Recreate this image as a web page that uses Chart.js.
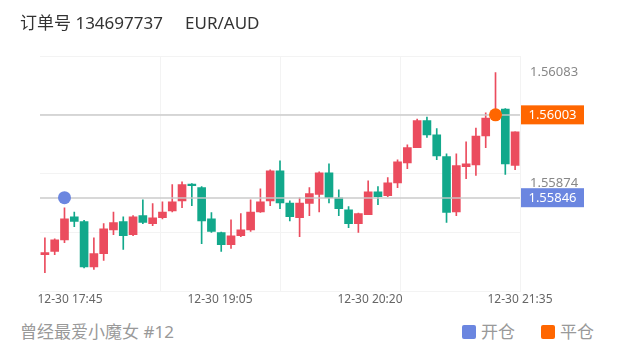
<!DOCTYPE html>
<html>
<head>
<meta charset="utf-8">
<script src="https://cdn.jsdelivr.net/npm/chart.js@4.4.1/dist/chart.umd.min.js"></script>
<style>
    body { margin: 0; background: #fff; font-family: "Noto Sans", "Noto Sans CJK SC", sans-serif; }
    #wrap { position: relative; width: 620px; height: 352px; overflow: hidden; }
    #title { position: absolute; left: 20px; top: 9px; font-size: 17px; color: #333; white-space: pre; }
    #footer { position: absolute; left: 20px; top: 318px; font-size: 17px; color: #999; }
    #legend { position: absolute; left: 462px; top: 318px; font-size: 17px; color: #999; }
    #legend span.box { display: inline-block; width: 14px; height: 14px; border-radius: 2px; vertical-align: -1px; margin-right: 5px; }
    #legend span.item { margin-right: 26px; }
    canvas { position: absolute; left: 0; top: 0; }
</style>
</head>
<body>
<div id="wrap">
    <canvas id="kline-chart" width="620" height="310"></canvas>
    <div id="title">订单号 134697737     EUR/AUD</div>
    <div id="footer">曾经最爱小魔女 #12</div>
    <div id="legend"><span class="item"><span class="box" style="background:#6b86e0"></span>开仓</span><span><span class="box" style="background:#ff6600"></span>平仓</span></div>
</div>
<script>
// K线数据 (5分钟)
const categories = [
    '17:30', '17:35', '17:40', '17:45', '17:50', '17:55', '18:00', '18:05', '18:10', '18:15',
    '18:20', '18:25', '18:30', '18:35', '18:40', '18:45', '18:50', '18:55', '19:00', '19:05',
    '19:10', '19:15', '19:20', '19:25', '19:30', '19:35', '19:40', '19:45', '19:50', '19:55',
    '20:00', '20:05', '20:10', '20:15', '20:20', '20:25', '20:30', '20:35', '20:40', '20:45',
    '20:50', '20:55', '21:00', '21:05', '21:10', '21:15', '21:20', '21:25', '21:30'
];
const opens = [
    1.55738, 1.55744, 1.55766, 1.55810, 1.55801, 1.55715, 1.55740, 1.55785, 1.55801, 1.55776,
    1.55812, 1.55797, 1.55808, 1.55821, 1.55840, 1.55872, 1.55865, 1.55806, 1.55780, 1.55757,
    1.55774, 1.55785, 1.55819, 1.55840, 1.55897, 1.55836, 1.55808, 1.55835, 1.55852, 1.55893,
    1.55846, 1.55823, 1.55797, 1.55814, 1.55857, 1.55850, 1.55874, 1.55912, 1.55941, 1.55992,
    1.55965, 1.55924, 1.55819, 1.55905, 1.55908, 1.55963, 1.55997, 1.56014, 1.55907
];
const highs = [
    1.55770, 1.55768, 1.55827, 1.55819, 1.55803, 1.55770, 1.55797, 1.55819, 1.55810, 1.55812,
    1.55842, 1.55835, 1.55838, 1.55871, 1.55876, 1.55873, 1.55867, 1.55818, 1.55781, 1.55804,
    1.55816, 1.55842, 1.55863, 1.55899, 1.55916, 1.55840, 1.55846, 1.55865, 1.55895, 1.55910,
    1.55861, 1.55829, 1.55817, 1.55878, 1.55867, 1.55884, 1.55918, 1.55946, 1.55995, 1.55999,
    1.55977, 1.55929, 1.55929, 1.55952, 1.55978, 1.56007, 1.56083, 1.56015, 1.55971
];
const lows = [
    1.55704, 1.55738, 1.55761, 1.55791, 1.55713, 1.55710, 1.55727, 1.55776, 1.55748, 1.55774,
    1.55797, 1.55793, 1.55806, 1.55819, 1.55827, 1.55831, 1.55759, 1.55780, 1.55744, 1.55750,
    1.55772, 1.55782, 1.55818, 1.55831, 1.55825, 1.55802, 1.55772, 1.55812, 1.55819, 1.55836,
    1.55812, 1.55789, 1.55780, 1.55814, 1.55833, 1.55848, 1.55865, 1.55901, 1.55941, 1.55960,
    1.55918, 1.55799, 1.55812, 1.55882, 1.55888, 1.55941, 1.55993, 1.55890, 1.55899
];
const closes = [
    1.55742, 1.55766, 1.55806, 1.55801, 1.55715, 1.55740, 1.55787, 1.55799, 1.55774, 1.55810,
    1.55799, 1.55808, 1.55819, 1.55838, 1.55871, 1.55869, 1.55802, 1.55782, 1.55757, 1.55774,
    1.55785, 1.55819, 1.55838, 1.55897, 1.55836, 1.55810, 1.55836, 1.55854, 1.55893, 1.55846,
    1.55825, 1.55797, 1.55816, 1.55857, 1.55848, 1.55874, 1.55914, 1.55941, 1.55992, 1.55965,
    1.55925, 1.55818, 1.55907, 1.55910, 1.55963, 1.55997, 1.56005, 1.55910, 1.55971
];
// 时间轴标签
const xTickLabels = ['12-30 17:45', '12-30 19:05', '12-30 20:20', '12-30 21:35'];
// 右侧价格标记
const yMarkLabels = [1.56083, 1.55874];
// 开仓 / 平仓
const openIndex = 2;
const openPrice = 1.55846;
const closeIndex = 46;
const closePrice = 1.56003;

const upColor = '#eb4c5e';
const downColor = '#12a88b';
const openColor = '#6b86e0';
const closeColor = '#ff6600';

const candleColors = opens.map((o, i) => closes[i] >= o ? upColor : downColor);
const wickData = lows.map((l, i) => [l, highs[i]]);
const bodyData = opens.map((o, i) => [o, closes[i]]);

// 时间轴: 标签位置与竖网格位置 (占绘图区宽度的比例)
const labelPos = [1 / 16, 6 / 16, 11 / 16, 1];
const gridPos = [0.25, 0.5, 0.75, 1];

// 价格线 + 右侧标签
const priceLinePlugin = {
    id: 'priceLines',
    afterDatasetDraw(chart, args) {
        if (args.index !== 1) return;
        const ctx = chart.ctx;
        const area = chart.chartArea;
        const y = chart.scales.y;
        ctx.save();
        ctx.strokeStyle = 'rgba(200, 200, 200, 0.7)';
        ctx.lineWidth = 2;
        [closePrice, openPrice].forEach(v => {
            const py = Math.round(y.getPixelForValue(v));
            ctx.beginPath();
            ctx.moveTo(area.left, py);
            ctx.lineTo(area.right, py);
            ctx.stroke();
        });
        ctx.restore();
    },
    afterDraw(chart) {
        const ctx = chart.ctx;
        const area = chart.chartArea;
        const y = chart.scales.y;
        ctx.save();
        ctx.font = '13px "Noto Sans", "Noto Sans CJK SC", sans-serif';
        ctx.textBaseline = 'middle';
        ctx.textAlign = 'left';
        ctx.fillStyle = '#888';
        yMarkLabels.forEach(v => {
            ctx.fillText(v.toFixed(5), area.right + 10, y.getPixelForValue(v));
        });
        ctx.textAlign = 'center';
        [[closePrice, closeColor], [openPrice, openColor]].forEach(([v, c]) => {
            const py = y.getPixelForValue(v);
            ctx.fillStyle = c;
            ctx.fillRect(area.right + 1, py - 9.5, 63, 19);
            ctx.fillStyle = '#fff';
            ctx.fillText(v.toFixed(5), area.right + 32.5, py + 0.5);
        });
        ctx.restore();
    }
};

const ctx = document.getElementById('kline-chart').getContext('2d');

window.klineChart = new Chart(ctx, {
    type: 'bar',
    data: {
        labels: categories,
        datasets: [
            {
                label: 'wick',
                data: wickData,
                backgroundColor: candleColors,
                barThickness: 1,
                grouped: false,
                order: 3
            },
            {
                label: 'body',
                data: bodyData,
                backgroundColor: candleColors,
                barThickness: 8,
                minBarLength: 1,
                grouped: false,
                order: 2
            },
            {
                type: 'line',
                label: '开仓',
                data: [{ x: categories[openIndex], y: openPrice }],
                showLine: false,
                pointRadius: 6.5,
                pointBackgroundColor: openColor,
                pointBorderWidth: 0,
                order: 0
            },
            {
                type: 'line',
                label: '平仓',
                data: [{ x: categories[closeIndex], y: closePrice }],
                showLine: false,
                pointRadius: 6.5,
                pointBackgroundColor: closeColor,
                pointBorderWidth: 0,
                order: 0
            }
        ]
    },
    options: {
        responsive: false,
        animation: false,
        layout: {
            padding: { left: 40, right: 100, top: 56, bottom: 2 }
        },
        scales: {
            x: {
                display: false,
                offset: true
            },
            xl: {
                type: 'linear',
                position: 'bottom',
                min: 0,
                max: 1,
                offset: false,
                afterBuildTicks: axis => {
                    const vals = [...new Set([...labelPos, ...gridPos])].sort((a, b) => a - b);
                    axis.ticks = vals.map(v => ({ value: v }));
                },
                ticks: {
                    padding: 1,
                    maxRotation: 0,
                    autoSkip: false,
                    color: '#666',
                    font: { size: 12, family: '"Noto Sans", "Noto Sans CJK SC", sans-serif' },
                    callback: value => {
                        const k = labelPos.indexOf(value);
                        return k >= 0 ? xTickLabels[k] : '';
                    }
                },
                grid: {
                    offset: false,
                    drawTicks: false,
                    color: c => (c.tick && gridPos.includes(c.tick.value)) ? '#f3f3f3' : 'rgba(0,0,0,0)'
                },
                border: { display: false }
            },
            y: {
                position: 'right',
                min: 1.556681,
                max: 1.561145,
                afterBuildTicks: axis => {
                    const step = (axis.max - axis.min) / 4;
                    axis.ticks = [0, 1, 2, 3, 4].map(k => ({ value: axis.min + step * k }));
                },
                ticks: { display: false },
                grid: { color: '#f3f3f3', drawTicks: false },
                border: { display: false }
            }
        },
        plugins: {
            legend: { display: false },
            tooltip: { enabled: false }
        }
    },
    plugins: [priceLinePlugin]
});
</script>
</body>
</html>
